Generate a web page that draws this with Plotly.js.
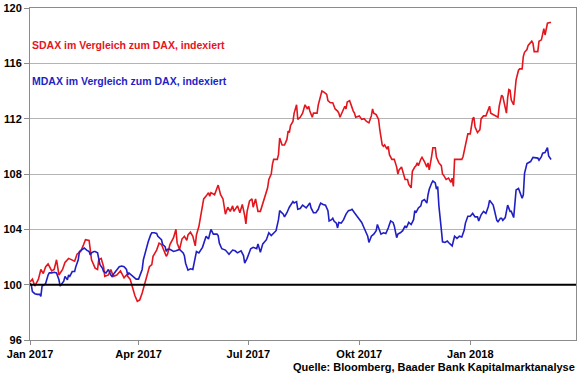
<!DOCTYPE html>
<html>
<head>
<meta charset="utf-8">
<script src="https://cdn.plot.ly/plotly-3.0.1.min.js"></script>
<style>
  html, body { margin: 0; padding: 0; background: #ffffff; }
  #chart { width: 580px; height: 375px; }
</style>
</head>
<body>
<div id="chart"></div>
<script>
// ---------- DATA ----------
const sdaxDates = [
"2017-01-01","2017-01-03","2017-01-05","2017-01-08","2017-01-10","2017-01-12","2017-01-14","2017-01-16","2017-01-19","2017-01-21",
"2017-01-23","2017-01-25","2017-01-28","2017-01-30","2017-02-02","2017-02-04","2017-02-07","2017-02-09","2017-02-12","2017-02-14",
"2017-02-16","2017-02-19","2017-02-20","2017-02-21","2017-02-24","2017-02-26","2017-02-27","2017-03-01","2017-03-03","2017-03-04",
"2017-03-07","2017-03-09","2017-03-11","2017-03-14","2017-03-17","2017-03-20","2017-03-22","2017-03-25","2017-03-27","2017-03-29",
"2017-03-31","2017-04-02","2017-04-04","2017-04-06","2017-04-08","2017-04-10","2017-04-12","2017-04-13","2017-04-16","2017-04-18",
"2017-04-20","2017-04-22","2017-04-24","2017-04-25","2017-04-27","2017-04-30","2017-05-02","2017-05-03","2017-05-05","2017-05-07",
"2017-05-09","2017-05-11","2017-05-12","2017-05-14","2017-05-16","2017-05-18","2017-05-19","2017-05-21","2017-05-23","2017-05-25",
"2017-05-27","2017-05-29","2017-05-30","2017-05-31","2017-06-03","2017-06-05","2017-06-06","2017-06-08","2017-06-10","2017-06-12",
"2017-06-14","2017-06-16","2017-06-18","2017-06-19","2017-06-22","2017-06-24","2017-06-26","2017-06-28","2017-06-29","2017-06-30",
"2017-07-02","2017-07-04","2017-07-05","2017-07-07","2017-07-09","2017-07-11","2017-07-13","2017-07-15","2017-07-17","2017-07-18",
"2017-07-20","2017-07-21","2017-07-22","2017-07-25","2017-07-26","2017-07-27","2017-07-29","2017-07-31","2017-08-02","2017-08-03",
"2017-08-04","2017-08-05","2017-08-07","2017-08-08","2017-08-10","2017-08-11","2017-08-13","2017-08-15","2017-08-17","2017-08-19",
"2017-08-20","2017-08-21","2017-08-23","2017-08-24","2017-08-27","2017-08-28","2017-08-30","2017-08-31","2017-09-02","2017-09-04",
"2017-09-05","2017-09-07","2017-09-09","2017-09-11","2017-09-13","2017-09-14","2017-09-15","2017-09-17","2017-09-19","2017-09-20",
"2017-09-21","2017-09-23","2017-09-24","2017-09-26","2017-09-27","2017-09-28","2017-10-01","2017-10-03","2017-10-05","2017-10-07",
"2017-10-09","2017-10-11","2017-10-12","2017-10-13","2017-10-15","2017-10-17","2017-10-18","2017-10-20","2017-10-21","2017-10-22",
"2017-10-24","2017-10-25","2017-10-26","2017-10-28","2017-10-30","2017-11-01","2017-11-02","2017-11-03","2017-11-05","2017-11-06",
"2017-11-07","2017-11-08","2017-11-10","2017-11-11","2017-11-13","2017-11-14","2017-11-16","2017-11-17","2017-11-18","2017-11-19",
"2017-11-21","2017-11-22","2017-11-24","2017-11-26","2017-11-27","2017-11-28","2017-11-30","2017-12-01","2017-12-03","2017-12-04",
"2017-12-06","2017-12-08","2017-12-09","2017-12-10","2017-12-12","2017-12-14","2017-12-16","2017-12-17","2017-12-18","2017-12-19",
"2017-12-22","2017-12-25","2017-12-26","2017-12-28","2017-12-30","2018-01-01","2018-01-03","2018-01-04","2018-01-05","2018-01-07",
"2018-01-09","2018-01-10","2018-01-12","2018-01-14","2018-01-16","2018-01-17","2018-01-18","2018-01-20","2018-01-22","2018-01-24",
"2018-01-25","2018-01-27","2018-01-28","2018-01-30","2018-01-31","2018-02-01","2018-02-02","2018-02-03","2018-02-04","2018-02-06",
"2018-02-07","2018-02-08","2018-02-10","2018-02-11","2018-02-13","2018-02-14","2018-02-15","2018-02-17","2018-02-18","2018-02-20",
"2018-02-21","2018-02-22","2018-02-23","2018-02-26","2018-02-27","2018-03-01","2018-03-02","2018-03-03","2018-03-04","2018-03-05",
"2018-03-06","2018-03-08","2018-03-09"
];
const sdaxValues = [
100.2,100.4,99.9,100.4,101.1,100.8,101.3,101.5,101.0,101.1,
101.8,100.7,101.1,101.6,101.9,101.8,101.7,102.2,102.4,102.8,
103.25,103.2,102.4,101.8,101.2,101.1,101.8,101.9,101.3,100.6,
100.7,101.1,100.6,100.7,101.0,100.5,100.7,100.4,99.8,99.2,
98.8,98.9,99.4,100.1,100.7,101.3,101.45,102.05,102.5,103.0,
102.9,102.5,102.05,102.2,102.9,103.4,104.0,103.0,102.55,103.3,
103.5,103.2,103.6,103.8,103.5,102.8,103.6,104.2,105.2,106.2,
106.4,106.65,106.4,106.65,106.5,106.9,107.2,106.5,106.2,105.1,
105.6,105.3,105.7,105.3,105.7,105.2,105.8,105.0,104.4,105.3,
106.05,106.2,105.6,106.2,105.3,105.3,105.9,106.5,107.0,107.6,
108.0,108.7,109.06,109.06,109.4,110.6,110.1,110.1,110.5,111.1,
111.0,111.5,111.8,112.4,113.0,111.95,112.1,112.4,113.0,112.7,
112.9,112.55,112.1,112.4,112.4,113.0,113.6,114.0,113.9,113.75,
113.3,113.15,113.15,112.7,112.55,112.4,112.1,112.55,112.9,112.7,
113.2,113.3,113.0,112.55,112.4,112.1,112.2,111.95,112.0,111.8,
111.7,112.2,112.7,112.4,112.3,111.95,111.2,110.1,110.0,110.1,
109.8,110.0,109.4,109.06,109.06,108.5,108.0,108.3,108.5,108.2,
107.9,107.6,107.6,107.25,107.0,108.2,108.5,108.6,108.8,108.6,
109.06,109.2,108.9,108.5,108.8,108.3,109.3,109.9,109.9,109.2,
108.8,108.6,108.0,107.9,107.6,107.7,107.4,107.7,107.1,109.06,
109.06,109.06,109.25,110.2,110.9,110.9,112.0,112.1,111.4,111.0,
111.2,112.0,112.2,112.2,112.6,112.9,112.4,112.3,112.2,112.1,
112.9,113.7,113.6,112.6,112.4,113.5,114.1,114.05,113.35,113.0,
113.8,114.8,115.5,115.6,115.6,116.5,116.8,117.0,117.3,117.5,
117.6,117.45,116.85,116.85,117.6,117.7,118.05,118.5,118.05,118.65,
118.9,118.95,118.95
];

const mdaxDates = [
"2017-01-01","2017-01-02","2017-01-03","2017-01-05","2017-01-07","2017-01-09","2017-01-10","2017-01-11","2017-01-13","2017-01-14",
"2017-01-16","2017-01-17","2017-01-19","2017-01-21","2017-01-23","2017-01-25","2017-01-26","2017-01-28","2017-01-29","2017-01-30",
"2017-02-01","2017-02-02","2017-02-03","2017-02-05","2017-02-07","2017-02-08","2017-02-10","2017-02-11","2017-02-13","2017-02-15",
"2017-02-17","2017-02-19","2017-02-20","2017-02-21","2017-02-23","2017-02-24","2017-02-26","2017-02-27","2017-02-28","2017-03-02",
"2017-03-03","2017-03-05","2017-03-07","2017-03-09","2017-03-10","2017-03-12","2017-03-14","2017-03-16","2017-03-18","2017-03-20",
"2017-03-22","2017-03-23","2017-03-24","2017-03-26","2017-03-28","2017-03-30","2017-04-01","2017-04-02","2017-04-04","2017-04-05",
"2017-04-07","2017-04-08","2017-04-09","2017-04-11","2017-04-12","2017-04-14","2017-04-16","2017-04-17","2017-04-19","2017-04-20",
"2017-04-21","2017-04-23","2017-04-24","2017-04-25","2017-04-27","2017-04-30","2017-05-02","2017-05-05","2017-05-08","2017-05-09",
"2017-05-10","2017-05-12","2017-05-14","2017-05-16","2017-05-19","2017-05-21","2017-05-24","2017-05-27","2017-05-29","2017-05-30",
"2017-05-31","2017-06-02","2017-06-05","2017-06-06","2017-06-07","2017-06-09","2017-06-12","2017-06-15","2017-06-18","2017-06-20",
"2017-06-22","2017-06-25","2017-06-27","2017-06-28","2017-06-30","2017-07-03","2017-07-05","2017-07-08","2017-07-09","2017-07-11",
"2017-07-13","2017-07-16","2017-07-18","2017-07-20","2017-07-22","2017-07-24","2017-07-26","2017-07-27","2017-07-30","2017-07-31",
"2017-08-02","2017-08-04","2017-08-07","2017-08-08","2017-08-10","2017-08-11","2017-08-13","2017-08-15","2017-08-18","2017-08-19",
"2017-08-21","2017-08-22","2017-08-24","2017-08-26","2017-08-28","2017-08-29","2017-08-30","2017-09-01","2017-09-03","2017-09-05",
"2017-09-06","2017-09-08","2017-09-09","2017-09-10","2017-09-12","2017-09-13","2017-09-14","2017-09-16","2017-09-18","2017-09-20",
"2017-09-22","2017-09-24","2017-09-25","2017-09-27","2017-09-29","2017-10-01","2017-10-03","2017-10-05","2017-10-07","2017-10-08",
"2017-10-09","2017-10-11","2017-10-13","2017-10-15","2017-10-16","2017-10-18","2017-10-19","2017-10-21","2017-10-23","2017-10-25",
"2017-10-27","2017-10-29","2017-10-30","2017-11-01","2017-11-02","2017-11-04","2017-11-06","2017-11-08","2017-11-09","2017-11-11",
"2017-11-13","2017-11-15","2017-11-16","2017-11-17","2017-11-19","2017-11-21","2017-11-22","2017-11-24","2017-11-26","2017-11-27",
"2017-11-28","2017-11-30","2017-12-01","2017-12-03","2017-12-04","2017-12-05","2017-12-06","2017-12-08","2017-12-09","2017-12-11",
"2017-12-13","2017-12-14","2017-12-16","2017-12-17","2017-12-19","2017-12-21","2017-12-23","2017-12-25","2017-12-27","2017-12-28",
"2017-12-30","2018-01-01","2018-01-03","2018-01-04","2018-01-05","2018-01-07","2018-01-08","2018-01-10","2018-01-12","2018-01-14",
"2018-01-15","2018-01-16","2018-01-17","2018-01-19","2018-01-20","2018-01-21","2018-01-23","2018-01-24","2018-01-26","2018-01-27",
"2018-01-28","2018-01-30","2018-01-31","2018-02-01","2018-02-03","2018-02-04","2018-02-06","2018-02-07","2018-02-08","2018-02-10",
"2018-02-11","2018-02-13","2018-02-14","2018-02-15","2018-02-17","2018-02-18","2018-02-20","2018-02-22","2018-02-24","2018-02-26",
"2018-02-27","2018-03-01","2018-03-02","2018-03-04","2018-03-06","2018-03-07","2018-03-09"
];
const mdaxValues = [
100.1,100.0,99.5,99.35,99.3,99.3,99.15,99.9,100.0,100.1,
100.7,100.85,100.85,100.9,100.85,100.35,99.9,100.1,100.25,100.6,
100.35,100.7,100.6,100.95,100.95,101.3,101.8,102.4,102.5,102.65,
102.5,102.4,102.15,102.3,102.4,102.4,102.3,101.9,101.45,101.2,
100.95,100.85,101.1,100.7,100.6,100.85,101.1,101.3,101.35,101.3,
101.1,100.7,100.85,100.7,100.5,100.4,100.4,100.6,101.1,101.8,
102.5,102.65,103.1,103.6,103.75,103.75,103.7,103.5,103.35,103.25,
102.9,102.75,102.4,102.55,102.55,102.4,102.45,102.55,102.3,102.1,
101.55,101.05,101.15,101.1,102.4,102.3,102.7,103.5,103.3,103.7,
104.0,103.65,103.65,103.55,103.0,102.6,102.5,102.2,102.5,102.45,
102.3,102.45,102.1,101.55,101.9,102.6,102.7,102.6,102.95,102.35,
102.95,103.25,103.75,103.55,103.75,103.9,104.7,105.35,105.1,104.9,
105.2,105.6,106.0,105.9,106.0,105.45,105.5,105.75,105.55,105.7,
105.9,105.55,105.2,105.2,105.45,105.7,105.9,105.8,105.75,105.35,
104.6,104.7,104.8,104.6,104.45,104.1,104.5,104.45,104.7,105.1,
105.35,105.4,105.45,105.2,104.95,104.7,104.5,104.1,103.75,103.5,
103.05,103.5,103.65,103.9,104.35,103.9,103.65,103.75,103.7,104.1,
104.6,104.5,104.25,103.4,103.65,103.75,103.9,104.25,104.1,104.5,
104.35,104.7,105.35,105.2,105.55,105.7,106.05,106.15,105.9,106.5,
106.9,107.35,107.5,107.35,106.9,107.1,105.7,104.0,103.1,103.05,
103.15,103.05,102.9,102.8,103.5,103.35,103.5,103.45,103.95,104.45,
104.95,104.95,105.15,105.05,104.9,104.9,104.6,105.05,105.3,105.15,
105.4,105.65,106.1,105.9,105.75,105.4,104.65,104.55,104.8,104.8,
104.65,104.85,105.5,105.75,105.3,105.3,104.85,105.9,106.85,106.95,
106.7,106.25,106.5,108.05,108.75,108.8,108.9,109.2,109.15,109.15,
109.0,109.25,109.5,109.55,109.9,109.3,109.05
];

const baseLevel = 100;
const xTickDates = ["2017-01-01","2017-04-01","2017-07-01","2017-10-01","2018-01-01"];
const xTickLabels = ["Jan 2017","Apr 2017","Jul 2017","Okt 2017","Jan 2018"];
const yTicks = [96,100,104,108,112,116,120];
const sdaxLabel = "SDAX im Vergleich zum DAX, indexiert";
const mdaxLabel = "MDAX im Vergleich zum DAX, indexiert";
const sourceText = "Quelle: Bloomberg, Baader Bank Kapitalmarktanalyse";

// ---------- STYLE ----------
const RED = "#e3161e";
const BLUE = "#1f1fc4";
const FONT = "Liberation Sans, Arial, sans-serif";

const traces = [
  { x: sdaxDates, y: sdaxValues, type: "scatter", mode: "lines",
    line: { color: RED, width: 1.6 }, name: "SDAX" },
  { x: mdaxDates, y: mdaxValues, type: "scatter", mode: "lines",
    line: { color: BLUE, width: 1.6 }, name: "MDAX" }
];

const layout = {
  width: 580, height: 375,
  margin: { l: 30, r: 4, t: 8, b: 35 },
  paper_bgcolor: "#ffffff", plot_bgcolor: "#ffffff",
  showlegend: false,
  font: { family: FONT, size: 11, color: "#000000" },
  xaxis: {
    type: "date",
    range: ["2017-01-01", "2018-03-29 16:00"],
    tickvals: xTickDates, ticktext: xTickLabels,
    ticks: "outside", ticklen: 4, tickcolor: "#8c8c8c", tickwidth: 1,
    showgrid: false, zeroline: false,
    showline: true, linecolor: "#8c8c8c", linewidth: 1, mirror: true,
    tickfont: { family: FONT, size: 11, color: "#000000", weight: "bold" }
  },
  yaxis: {
    range: [96, 120],
    tickvals: yTicks,
    ticks: "outside", ticklen: 5, tickcolor: "#8c8c8c", tickwidth: 1,
    showgrid: true, gridcolor: "#b4b4b4", gridwidth: 1,
    zeroline: false,
    showline: true, linecolor: "#8c8c8c", linewidth: 1, mirror: true,
    tickfont: { family: FONT, size: 11, color: "#000000", weight: "bold" }
  },
  shapes: [
    { type: "line", xref: "paper", x0: 0, x1: 1, yref: "y", y0: baseLevel, y1: baseLevel,
      line: { color: "#000000", width: 2 }, layer: "above" }
  ],
  annotations: [
    { text: sdaxLabel, xref: "paper", yref: "paper", x: 0.0, y: 0.8886,
      xanchor: "left", yanchor: "middle", showarrow: false,
      font: { family: FONT, size: 10.5, color: RED, weight: "bold" } },
    { text: mdaxLabel, xref: "paper", yref: "paper", x: 0.0, y: 0.780,
      xanchor: "left", yanchor: "middle", showarrow: false,
      font: { family: FONT, size: 10.5, color: BLUE, weight: "bold" } },
    { text: sourceText, xref: "paper", yref: "paper", x: 1.002, y: -0.080,
      xanchor: "right", yanchor: "middle", showarrow: false,
      font: { family: FONT, size: 11, color: "#000000", weight: "bold" } }
  ]
};

Plotly.newPlot("chart", traces, layout, { staticPlot: true, displayModeBar: false });
</script>
</body>
</html>
